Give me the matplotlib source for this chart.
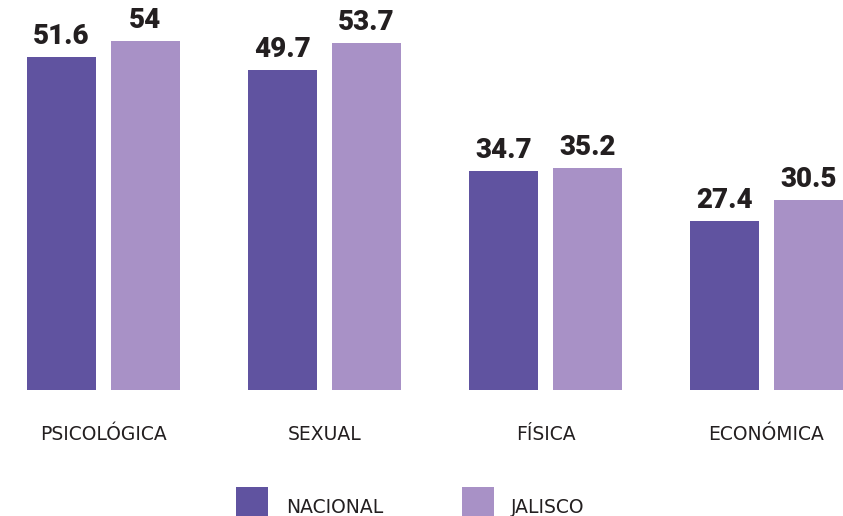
import numpy as np
import matplotlib.pyplot as plt
from matplotlib.patches import Rectangle

categories = ["PSICOLÓGICA", "SEXUAL", "FÍSICA", "ECONÓMICA"]
nacional = [51.6, 49.7, 34.7, 27.4]
jalisco = [54, 53.7, 35.2, 30.5]
series_names = ["NACIONAL", "JALISCO"]

c_nac = "#6053a0"
c_jal = "#a891c6"
c_txt = "#231f20"

W, H = 843, 516
fig = plt.figure(figsize=(W / 100, H / 100), dpi=100)
ax = fig.add_axes([0, 126 / H, 1, 390 / H])

x = np.arange(len(categories))
w = 69 / 221
off = 42 / 221

b1 = ax.bar(x - off, nacional, w, color=c_nac, label=series_names[0])
b2 = ax.bar(x + off, jalisco, w, color=c_jal, label=series_names[1])

for bars, vals in ((b1, nacional), (b2, jalisco)):
    for rect, v in zip(bars, vals):
        ax.annotate(f"{v:g}", (rect.get_x() + rect.get_width() / 2, v),
                    xytext=(0, 5), textcoords="offset points",
                    ha="center", va="bottom", fontsize=20,
                    fontweight="black", family="Roboto", color=c_txt)

ax.set_xlim(-103.5 / 221, (W - 103.5) / 221)
ax.set_ylim(2.4, 60.0)
ax.axis("off")

# category labels under the bars (baseline at ~440 px)
for xi, cat in zip(x, categories):
    xf = (103.5 + 221 * xi) / W
    fig.text(xf, 1 - 440 / H, cat, ha="center", va="baseline",
             fontsize=13.5, color=c_txt, family="DejaVu Sans")

# legend: squares + labels
leg_items = [(236, 286, c_nac, series_names[0]), (462, 511, c_jal, series_names[1])]
for sx, tx, col, name in leg_items:
    fig.add_artist(Rectangle((sx / W, 0), 32 / W, 29 / H, color=col,
                             transform=fig.transFigure, lw=0))
    fig.text(tx / W, 1 - 513 / H, name, ha="left", va="baseline",
             fontsize=13.5, color=c_txt, family="DejaVu Sans")

fig.savefig("out.png", dpi=100)
